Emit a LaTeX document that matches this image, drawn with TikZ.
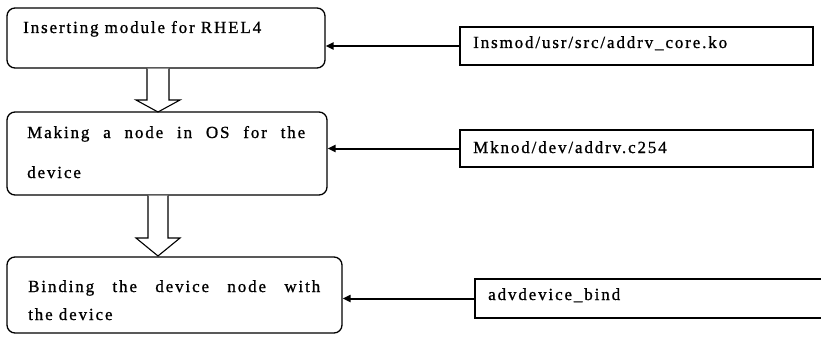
\documentclass[tikz,border=0pt]{standalone}
\usepackage{fontspec}
\setmainfont{Liberation Serif}[LetterSpace=11,FakeBold=1]
\usetikzlibrary{arrows.meta,calc}
\begin{document}
\begin{tikzpicture}[x=1pt,y=-1pt,
  lbox/.style={draw, line width=1.3pt, rounded corners=8pt, inner sep=0pt},
  rbox/.style={draw, line width=1.3pt, inner sep=0pt},
  txt/.style={anchor=base west, inner sep=0pt, font=\fontsize{17}{17}\selectfont},
  conn/.style={line width=2pt, -{Triangle[length=8pt,width=7pt]}},
  blockarrow/.style={draw, line width=1.1pt, fill=white, line join=miter}]
\useasboundingbox (0,0) rectangle (821,345);

% left rounded boxes
\node[lbox, minimum width=318pt, minimum height=60pt] (L1) at (166,38) {};
\node[lbox, minimum width=320pt, minimum height=83pt] (L2) at (167,153.5) {};
\node[lbox, minimum width=335pt, minimum height=76pt] (L3) at (174.5,295) {};

% right boxes
\node[rbox, minimum width=353pt, minimum height=38pt] (R1) at (636.5,46) {};
\node[rbox, minimum width=353pt, minimum height=37pt] (R2) at (636.5,148.5) {};
\node[rbox, minimum width=348pt, minimum height=39pt] (R3) at (649,298.5) {};

% texts
\node[txt] (t1) at (23,33) {Inserting module for RHEL4};
\node[txt] (t2a) at (27,138) {\makebox[278pt][s]{Making a node in OS for the}};
\node[txt] (t2b) at (27,178) {device};
\node[txt] (t3a) at (28,292) {\makebox[292pt][s]{Binding the device node with}};
\node[txt] (t3b) at (28,320) {the device};

\node[txt] (s1) at (473,48) {Insmod/usr/src/addrv\_core.ko};
\node[txt] (s2) at (473,153) {Mknod/dev/addrv.c254};
\node[txt] (s3) at (488,300) {advdevice\_bind};

% connectors
\draw[conn] (R1.west) -- (R1.west -| L1.east);
\draw[conn] (R2.west) -- (R2.west -| L2.east);
\draw[conn] (R3.west) -- (R3.west -| L3.east);

% hollow block arrows
\draw[blockarrow] (147,68.6) -- (147,100) -- (136,100) -- (158,112) -- (180,100) -- (169,100) -- (169,68.6);
\draw[blockarrow] (148,195.6) -- (148,238) -- (136,238) -- (158,256) -- (180,238) -- (168,238) -- (168,195.6);
\end{tikzpicture}
\end{document}
